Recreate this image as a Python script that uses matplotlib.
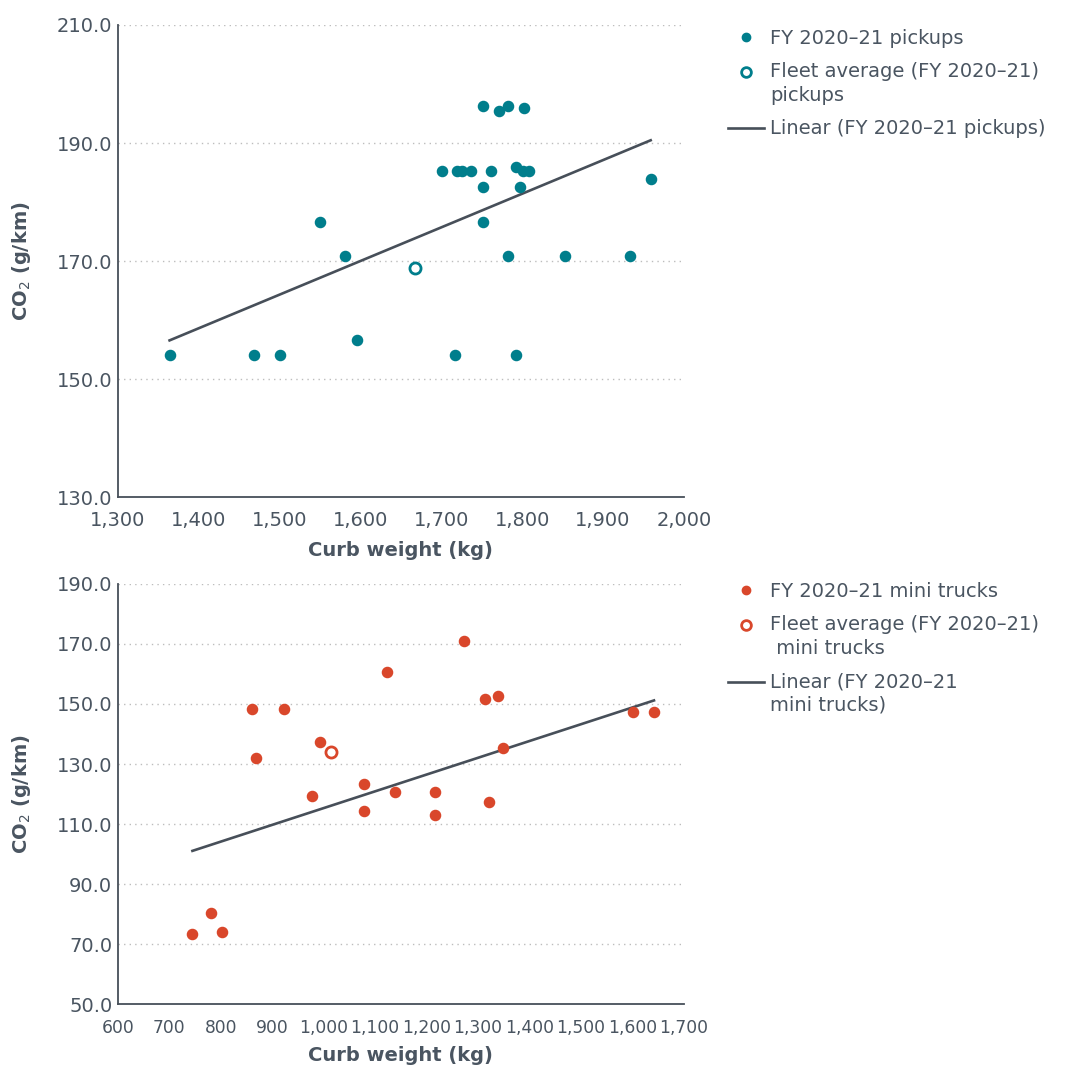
import numpy as np
import matplotlib
matplotlib.use("Agg")
import matplotlib.pyplot as plt
from matplotlib.legend_handler import HandlerLine2D
from matplotlib.ticker import FuncFormatter

plt.rcParams['font.family'] = ['DejaVu Sans']

# pickups (FY 2020-21)
pick_w = [1364, 1469, 1500, 1550, 1581, 1596, 1701, 1717, 1720, 1726, 1737,
          1752, 1752, 1752, 1762, 1772, 1782, 1782, 1793, 1793, 1798, 1801,
          1802, 1808, 1853, 1934, 1959]
pick_co2 = [154.0, 154.0, 154.0, 176.6, 170.9, 156.6, 185.2, 154.0, 185.2, 185.2, 185.2,
            196.3, 182.6, 176.6, 185.2, 195.5, 196.3, 170.9, 185.9, 154.0, 182.6, 185.2,
            195.9, 185.2, 170.9, 170.9, 183.9]
pick_avg = (1667, 168.9)
pick_trend = (0.0570, 78.8)   # slope, intercept as drawn

# mini trucks (FY 2020-21)
mini_w = [745, 782, 803, 861, 868, 922, 978, 993, 1079, 1079, 1124, 1139,
          1217, 1217, 1272, 1313, 1322, 1338, 1348, 1601, 1642]
mini_co2 = [73.5, 80.5, 74.0, 148.2, 132.0, 148.2, 119.2, 137.2, 123.4, 114.3, 160.7, 120.8,
            120.8, 113.0, 171.1, 151.5, 117.5, 152.5, 135.2, 147.4, 147.4]
mini_avg = (1015, 134.1)
mini_trend = (0.0559, 59.4)

teal = '#007E8C'
orange = '#D9472B'
dark = '#474F59'
txt = '#4A5561'


class Handle(HandlerLine2D):
    # marker at the right end of the handle, optionally lifted to the first text line
    def __init__(self, dy=0.0, **kw):
        super().__init__(numpoints=1, **kw)
        self.dy = dy

    def get_xdata(self, legend, xdescent, ydescent, width, height, fontsize):
        return [-xdescent, -xdescent + width], [-xdescent + width - 0.3 * fontsize]

    def create_artists(self, legend, orig_handle, xdescent, ydescent, width, height, fontsize, trans):
        arts = super().create_artists(legend, orig_handle, xdescent, ydescent, width, height,
                                      fontsize, trans)
        for a in arts:
            a.set_ydata(np.asarray(a.get_ydata()) + self.dy * fontsize)
        return arts


def draw(ax, w, co2, avg, trend, col, labels, xlim, xticks, ylim, yticks, xfs, xpad, xlpad, legy):
    pts, = ax.plot(w, co2, 'o', color=col, ms=7.3, mec=col, label=labels[0], zorder=3)
    av, = ax.plot([avg[0]], [avg[1]], 'o', mfc='white', mec=col, mew=2, ms=8,
                  label=labels[1], zorder=3)
    xs = np.array([min(w), max(w)])
    ln, = ax.plot(xs, trend[0] * xs + trend[1], color=dark, lw=1.9, label=labels[2], zorder=2)
    ax.set_xlim(*xlim)
    ax.set_ylim(*ylim)
    ax.set_xticks(xticks)
    ax.set_yticks(yticks)
    ax.xaxis.set_major_formatter(FuncFormatter(lambda v, p: f'{v:,.0f}'))
    ax.yaxis.set_major_formatter(FuncFormatter(lambda v, p: f'{v:.1f}'))
    for y in yticks[1:]:
        ax.axhline(y, color='#BDBDBD', lw=1, ls=(0, (1, 3)), zorder=1)
    for s in ['top', 'right']:
        ax.spines[s].set_visible(False)
    for s in ['left', 'bottom']:
        ax.spines[s].set_color(dark)
        ax.spines[s].set_linewidth(1.3)
    ax.tick_params(length=0, colors=txt, labelsize=14, pad=4)
    ax.tick_params(axis='x', labelsize=xfs, pad=xpad)
    ax.set_xlabel('Curb weight (kg)', fontsize=14, fontweight='bold', color=txt, labelpad=xlpad)
    ax.set_ylabel('CO$_2$ (g/km)', fontsize=14, fontweight='bold', color=txt, labelpad=17)
    hmap = {}
    for h, lab in zip([pts, av, ln], labels):
        hmap[h] = Handle(dy=0.62 if '\n' in lab else 0.0)
    leg = ax.legend(handles=[pts, av, ln], loc='upper left', bbox_to_anchor=(1.065, legy),
                    frameon=False, fontsize=14, handlelength=1.85, handletextpad=0.3,
                    labelspacing=0.75, borderaxespad=0, handler_map=hmap)
    for t in leg.get_texts():
        t.set_color(txt)
        t.set_linespacing(1.3)
    hs = leg.legend_handles
    hs[0].set_markersize(6)
    hs[1].set_markersize(7)


fig = plt.figure(figsize=(10.71, 10.68), dpi=100)
ax1 = fig.add_axes([0.110, 0.5346, 0.5285, 0.4420])
ax2 = fig.add_axes([0.110, 0.0599, 0.5285, 0.3933])

draw(ax1, pick_w, pick_co2, pick_avg, pick_trend, teal,
     ['FY 2020–21 pickups', 'Fleet average (FY 2020–21)\npickups', 'Linear (FY 2020–21 pickups)'],
     (1300, 2000), list(range(1300, 2001, 100)), (130, 210), [130, 150, 170, 190, 210],
     14, 10, 8, 1.0085)
draw(ax2, mini_w, mini_co2, mini_avg, mini_trend, orange,
     ['FY 2020–21 mini trucks', 'Fleet average (FY 2020–21)\n mini trucks', 'Linear (FY 2020–21\nmini trucks)'],
     (600, 1700), list(range(600, 1701, 100)), (50, 190), list(range(50, 191, 20)),
     12.3, 11, 6, 1.024)

fig.savefig('out.png', dpi=100)
